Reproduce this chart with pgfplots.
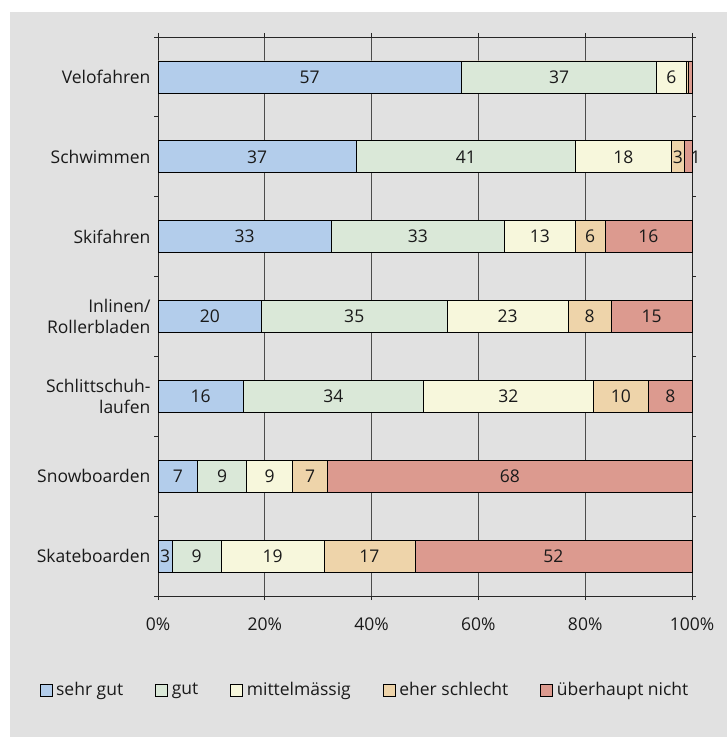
\documentclass[border=0pt]{standalone}
\usepackage{pgfplots}
\pgfplotsset{compat=1.18}
\usepackage{pgfplotstable}
\usepackage{fontspec}
\setmainfont{Open Sans}
\definecolor{bg}{HTML}{E1E1E1}
\definecolor{c1}{HTML}{B3CDEB}
\definecolor{c2}{HTML}{DAE8D8}
\definecolor{c3}{HTML}{F7F7DC}
\definecolor{c4}{HTML}{EED4AA}
\definecolor{c5}{HTML}{DC9A8F}
\definecolor{txt}{HTML}{1A1A1A}
\newcommand{\lf}{\fontsize{17.5bp}{21bp}\selectfont}

\pgfplotstableread{
y a b c d e la lb lc ld le
6 56.8 36.6 5.5 0.4 0.7 57 37 6 {} {}
5 37.1 41.1 17.9 2.5 1.4 37 41 18 3 {}
4 32.4 32.5 13.2 5.6 16.3 33 33 13 6 16
3 19.4 34.7 22.7 8.1 15.1 20 35 23 8 15
2 16.0 33.7 31.8 10.4 8.1 16 34 32 10 8
1 7.4 9.2 8.6 6.6 68.2 7 9 9 7 68
0 2.7 9.1 19.3 17.0 51.9 3 9 19 17 52
}\data

\begin{document}
\begin{tikzpicture}
\path[use as bounding box] (0,0) rectangle (727bp,737bp);
\fill[bg] (10bp,0) rectangle (727bp,725bp);
\begin{axis}[
  at={(158bp,141bp)}, anchor=south west,
  scale only axis, width=534bp, height=559bp,
  xmin=0, xmax=100, ymin=-0.5, ymax=6.5,
  clip=false,
  bar width=0.4, bar shift=0pt,
  axis line style={black!85, line width=0.8bp},
  tick align=outside, major tick length=4bp,
  tick style={black!85, line width=0.8bp},
  xtick={0,20,...,100},
  xticklabels={0\%,20\%,40\%,60\%,80\%,100\%},
  xticklabel style={yshift=-14bp},
  xmajorgrids, grid style={black!70, line width=0.8bp},
  ytick={-0.5,0.5,...,6.5}, yticklabels={},
  extra y ticks={0,1,2,3,4,5,6},
  extra y tick labels={Skateboarden,Snowboarden,{Schlittschuh-\\laufen},{Inlinen/\\Rollerbladen},Skifahren,Schwimmen,Velofahren},
  extra y tick style={major tick length=0pt, yticklabel style={align=right, xshift=-4bp}},
  ticklabel style={font=\lf, text=txt},
  legend columns=5,
  legend style={at={(0.3876,-0.168)}, anchor=center, draw=none, fill=none, font=\lf, text=txt,
    /tikz/every even column/.append style={column sep=30bp}},
  legend cell align=left,
  legend image code/.code={\draw[#1, draw=black, line width=0.7bp] (0bp,-6bp) rectangle (12bp,6bp); \path (14bp,0bp);},
  nodes near coords style={anchor=center, font=\lf, text=txt},
]
\addlegendimage{fill=c1}\addlegendentry{sehr gut}
\addlegendimage{fill=c2}\addlegendentry{gut}
\addlegendimage{fill=c3}\addlegendentry{mittelmässig}
\addlegendimage{fill=c4}\addlegendentry{eher schlecht}
\addlegendimage{fill=c5}\addlegendentry{überhaupt nicht}

\addplot[forget plot, xbar, fill=c5, draw=black, line width=0.7bp] table[x expr=\thisrow{a}+\thisrow{b}+\thisrow{c}+\thisrow{d}+\thisrow{e}, y=y] {\data};
\addplot[forget plot, xbar, fill=c4, draw=black, line width=0.7bp] table[x expr=\thisrow{a}+\thisrow{b}+\thisrow{c}+\thisrow{d}, y=y] {\data};
\addplot[forget plot, xbar, fill=c3, draw=black, line width=0.7bp] table[x expr=\thisrow{a}+\thisrow{b}+\thisrow{c}, y=y] {\data};
\addplot[forget plot, xbar, fill=c2, draw=black, line width=0.7bp] table[x expr=\thisrow{a}+\thisrow{b}, y=y] {\data};
\addplot[forget plot, xbar, fill=c1, draw=black, line width=0.7bp] table[x=a, y=y] {\data};

\addplot[forget plot, draw=none, mark=none, nodes near coords, point meta=explicit symbolic] table[x expr=\thisrow{a}/2, y=y, meta=la] {\data};
\addplot[forget plot, draw=none, mark=none, nodes near coords, point meta=explicit symbolic] table[x expr=\thisrow{a}+\thisrow{b}/2, y=y, meta=lb] {\data};
\addplot[forget plot, draw=none, mark=none, nodes near coords, point meta=explicit symbolic] table[x expr=\thisrow{a}+\thisrow{b}+\thisrow{c}/2, y=y, meta=lc] {\data};
\addplot[forget plot, draw=none, mark=none, nodes near coords, point meta=explicit symbolic] table[x expr=\thisrow{a}+\thisrow{b}+\thisrow{c}+\thisrow{d}/2, y=y, meta=ld] {\data};
\addplot[forget plot, draw=none, mark=none, nodes near coords, point meta=explicit symbolic] table[x expr=\thisrow{a}+\thisrow{b}+\thisrow{c}+\thisrow{d}+\thisrow{e}/2, y=y, meta=le] {\data};
% label "1" of Schwimmen sits just right of its thin segment
\addplot[forget plot, draw=none, mark=none, nodes near coords, point meta=explicit symbolic] coordinates {(100.7,5) [1]};
\end{axis}
\end{tikzpicture}
\end{document}
